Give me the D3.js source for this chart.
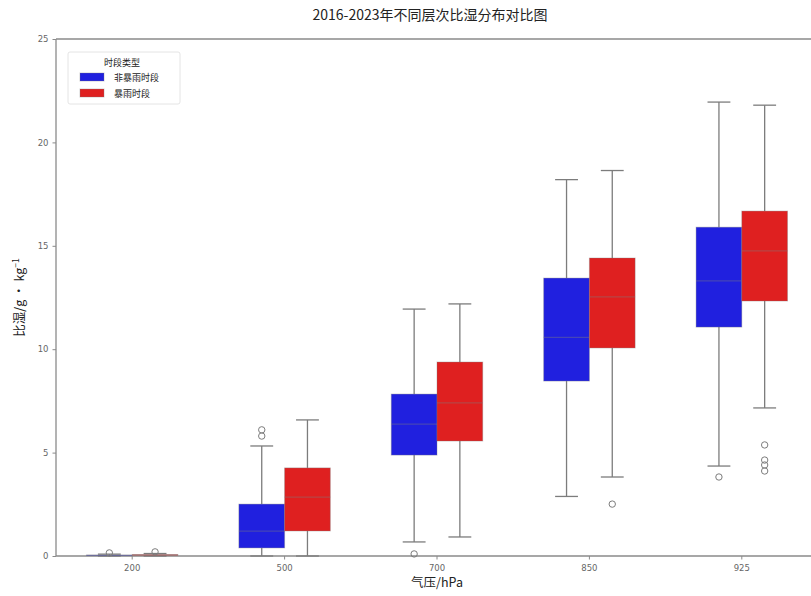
<!DOCTYPE html>
<html>
<head>
<meta charset="utf-8">
<script src="https://cdn.jsdelivr.net/npm/d3@7"></script>
<style>
  html, body { margin: 0; padding: 0; background: #fff; }
  svg { display: block; font-family: "Noto Sans CJK SC", "DejaVu Sans", sans-serif; }
</style>
</head>
<body>
<svg id="chart" width="811" height="596"></svg>
<script>
// Pressure levels (categories)
const levels = ["200", "500", "700", "850", "925"];
const groups = ["非暴雨时段", "暴雨时段"];
const groupColors = ["#2020df", "#df2020"];

// Box statistics per level: [lower whisker, Q1, median, Q3, upper whisker]
const nonStormStats = [
  [0.0, 0.02, 0.03, 0.05, 0.09],
  [0.0, 0.39, 1.2, 2.51, 5.32],
  [0.68, 4.88, 6.38, 7.83, 11.94],
  [2.88, 8.46, 10.57, 13.44, 18.2],
  [4.35, 11.07, 13.3, 15.9, 21.95]
];
const stormStats = [
  [0.0, 0.03, 0.05, 0.07, 0.12],
  [0.0, 1.21, 2.85, 4.26, 6.58],
  [0.92, 5.56, 7.4, 9.38, 12.19],
  [3.82, 10.06, 12.53, 14.41, 18.64],
  [7.16, 12.33, 14.75, 16.68, 21.8]
];

// Outliers per level
const nonStormOutliers = [[0.15], [5.8, 6.1], [0.1], [], [3.82]];
const stormOutliers = [[0.2], [], [], [2.51], [5.37, 4.64, 4.4, 4.11]];

const yTicks = [0, 5, 10, 15, 20, 25];

const svg = d3.select("#chart");
const margin = { left: 56, top: 39, bottom: 40 };
const plotRight = 818;       // axes continue past the window edge
const plotBottom = 556;

const x = d3.scaleBand().domain(levels).range([margin.left, plotRight]).paddingInner(0).paddingOuter(0);
const y = d3.scaleLinear().domain([0, 25]).range([plotBottom, margin.top]);

const boxFrac = 0.3;                      // each hue box takes 0.3 of a category
const boxW = x.bandwidth() * boxFrac;
const lineColor = "#7c7c7c";

// Title
svg.append("text")
  .attr("x", 430).attr("y", 20)
  .attr("text-anchor", "middle")
  .attr("font-size", 14)
  .attr("fill", "#222")
  .text("2016-2023年不同层次比湿分布对比图");

// Spines
const spine = svg.append("g").attr("stroke", "#8a8a8a").attr("stroke-width", 1.3).attr("fill", "none");
spine.append("line").attr("x1", margin.left).attr("x2", margin.left).attr("y1", margin.top).attr("y2", plotBottom);
spine.append("line").attr("x1", margin.left).attr("x2", plotRight).attr("y1", margin.top).attr("y2", margin.top);
spine.append("line").attr("x1", margin.left).attr("x2", plotRight).attr("y1", plotBottom).attr("y2", plotBottom);

// Axes
const yAxis = svg.append("g")
  .attr("transform", `translate(${margin.left},0)`)
  .call(d3.axisLeft(y).tickValues(yTicks).tickSize(3.5).tickPadding(4));
const xAxis = svg.append("g")
  .attr("transform", `translate(0,${plotBottom})`)
  .call(d3.axisBottom(x).tickSize(3.5).tickPadding(5));
[yAxis, xAxis].forEach(a => {
  a.select(".domain").remove();
  a.selectAll(".tick line").attr("stroke", "#8a8a8a");
  a.selectAll(".tick text").attr("fill", "#666").attr("font-size", 8.5)
    .attr("font-family", "DejaVu Sans, sans-serif");
});

// Axis labels
svg.append("text")
  .attr("x", 437).attr("y", 587)
  .attr("text-anchor", "middle")
  .attr("font-size", 12.5).attr("fill", "#222")
  .text("气压/hPa");

const yl = svg.append("text")
  .attr("transform", `translate(24,${(margin.top + plotBottom) / 2}) rotate(-90)`)
  .attr("text-anchor", "middle")
  .attr("font-size", 12.5).attr("fill", "#222");
yl.append("tspan").text("比湿/g · kg");
yl.append("tspan").attr("dy", -5).attr("font-size", 8.5).text("−1");

// Boxes
const series = [
  { stats: nonStormStats, outliers: nonStormOutliers, color: groupColors[0], offset: -1 },
  { stats: stormStats, outliers: stormOutliers, color: groupColors[1], offset: 0 }
];

const plot = svg.append("g");
series.forEach(s => {
  levels.forEach((lv, i) => {
    const [lo, q1, med, q3, hi] = s.stats[i];
    const cx = x(lv) + x.bandwidth() / 2 + s.offset * boxW;
    const center = cx + boxW / 2;
    const g = plot.append("g");
    // whiskers
    g.append("line").attr("x1", center).attr("x2", center).attr("y1", y(hi)).attr("y2", y(q3))
      .attr("stroke", lineColor).attr("stroke-width", 1.3);
    g.append("line").attr("x1", center).attr("x2", center).attr("y1", y(q1)).attr("y2", y(lo))
      .attr("stroke", lineColor).attr("stroke-width", 1.3);
    // caps
    [lo, hi].forEach(v => {
      g.append("line").attr("x1", center - boxW / 4).attr("x2", center + boxW / 4)
        .attr("y1", y(v)).attr("y2", y(v))
        .attr("stroke", lineColor).attr("stroke-width", 1.3);
    });
    // box
    g.append("rect")
      .attr("x", cx).attr("width", boxW)
      .attr("y", y(q3)).attr("height", Math.max(y(q1) - y(q3), 0.5))
      .attr("fill", s.color)
      .attr("stroke", lineColor).attr("stroke-opacity", 0.35).attr("stroke-width", 1);
    // median
    g.append("line").attr("x1", cx).attr("x2", cx + boxW)
      .attr("y1", y(med)).attr("y2", y(med))
      .attr("stroke", lineColor).attr("stroke-opacity", 0.4).attr("stroke-width", 1.2);
    // outliers
    s.outliers[i].forEach(v => {
      g.append("circle").attr("cx", center).attr("cy", y(v)).attr("r", 3.2)
        .attr("fill", "none").attr("stroke", lineColor).attr("stroke-width", 1);
    });
  });
});

// Legend
const lg = svg.append("g").attr("transform", "translate(68,52)");
lg.append("rect").attr("width", 112).attr("height", 52).attr("rx", 2)
  .attr("fill", "#fff").attr("fill-opacity", 0.8).attr("stroke", "#ddd").attr("stroke-width", 0.8);
lg.append("text").attr("x", 54).attr("y", 14).attr("text-anchor", "middle")
  .attr("font-size", 9).attr("fill", "#222").text("时段类型");
groups.forEach((name, i) => {
  lg.append("rect").attr("x", 12).attr("y", 21 + i * 16).attr("width", 24).attr("height", 8)
    .attr("fill", groupColors[i]).attr("stroke", lineColor).attr("stroke-opacity", 0.35);
  lg.append("text").attr("x", 46).attr("y", 29 + i * 16)
    .attr("font-size", 9).attr("fill", "#222").text(name);
});
</script>
</body>
</html>
